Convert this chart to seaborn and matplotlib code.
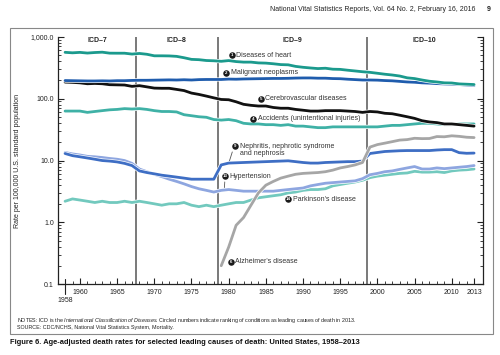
import numpy as np
import seaborn as sns
import matplotlib.pyplot as plt
import matplotlib.patheffects as pe
from matplotlib.patches import Rectangle
from matplotlib.ticker import FixedLocator, FixedFormatter, LogLocator, NullFormatter

# datos (tasas ajustadas por edad, por 100.000)
anos = list(range(1958, 2014))
anos_alz = list(range(1979, 2014))

corazon = [560, 550, 559, 545, 556, 563, 543, 542, 542, 525, 537, 521, 492, 492, 490, 482, 458, 431, 426, 413,
           409, 401, 412, 397, 389, 389, 378, 375, 366, 355, 352, 332, 321, 313, 306, 310, 299, 297, 288, 280,
           272, 266, 257, 248, 241, 232, 217, 211, 200, 191, 186, 180, 179, 173, 171, 169]
cancer = [196, 195, 194, 193, 193, 194, 193, 195, 195, 197, 198, 198, 199, 200, 201, 200, 202, 200, 203, 204,
          204, 204, 207, 206, 208, 209, 210, 211, 212, 212, 213, 215, 216, 216, 214, 214, 211, 210, 206, 203,
          200, 200, 199, 196, 194, 190, 186, 184, 180, 178, 175, 173, 172, 169, 166, 163]
cerebro = [185, 183, 180, 174, 176, 174, 168, 167, 166, 158, 162, 155, 148, 147, 147, 141, 135, 123, 117, 110,
           103, 97, 96, 89, 81, 78, 76, 76, 72, 70, 70, 67, 65, 63, 63, 64, 64, 64, 63, 62,
           60, 62, 61, 58, 57, 54, 51, 48, 44, 42, 41, 39, 39, 38, 37, 36]
accidentes = [63, 63, 63, 60, 62, 64, 66, 67, 69, 68, 69, 67, 64, 62, 62, 61, 55, 53, 51, 50,
              46, 45, 46, 44, 40, 39, 39, 38, 38, 37, 38, 36, 36, 35, 34, 34, 35, 35, 35, 35,
              35, 35, 35, 36, 37, 37, 38, 39, 40, 40, 39, 38, 38, 39, 39, 39]
nefritis = [13, 12, 11.5, 11, 10.5, 10, 9.8, 9.5, 9, 8.3, 6.8, 6.4, 6.1, 5.8, 5.6, 5.4, 5.2, 5.0, 5.0, 5.0,
            5.0, 8.5, 9.1, 9.2, 9.3, 9.4, 9.5, 9.6, 9.7, 9.8, 9.9, 9.6, 9.3, 9.1, 9.1, 9.3, 9.4, 9.5, 9.6, 9.6,
            9.8, 13.0, 13.5, 14.0, 14.2, 14.4, 14.5, 14.5, 14.5, 14.5, 14.8, 15.0, 15.0, 13.4, 13.1, 13.2]
hipertension = [13.5, 12.8, 12.3, 11.7, 11.5, 11.2, 10.8, 10.5, 10.0, 9.0, 7.3, 6.6, 6.0, 5.5, 5.0, 4.6, 4.2, 3.8, 3.5, 3.3,
                3.1, 3.3, 3.4, 3.3, 3.2, 3.2, 3.2, 3.2, 3.2, 3.3, 3.4, 3.5, 3.6, 3.9, 4.1, 4.3, 4.4, 4.5, 4.6, 4.7,
                5.1, 5.9, 6.2, 6.6, 6.8, 7.2, 7.6, 8.0, 7.3, 7.3, 7.6, 7.4, 7.6, 7.8, 8.0, 8.3]
parkinson = [2.2, 2.4, 2.3, 2.2, 2.1, 2.2, 2.1, 2.1, 2.2, 2.1, 2.2, 2.1, 2.0, 1.9, 2.0, 2.0, 2.1, 1.9, 1.8, 1.9,
             1.8, 1.9, 2.0, 2.1, 2.1, 2.3, 2.5, 2.6, 2.7, 2.8, 3.0, 3.1, 3.3, 3.4, 3.4, 3.5, 3.9, 4.1, 4.3, 4.5,
             4.8, 5.3, 5.6, 5.8, 6.0, 6.2, 6.3, 6.7, 6.5, 6.5, 6.6, 6.4, 6.8, 7.0, 7.1, 7.3]
alzheimer = [0.2, 0.4, 0.9, 1.2, 1.9, 3.0, 4.0, 4.6, 5.2, 5.6, 6.0, 6.2, 6.3, 6.4, 6.6, 7.0, 7.6, 8.0, 8.5,
             9.3, 16.5, 18.1, 19.1, 20.2, 21.4, 21.8, 22.9, 22.6, 22.7, 24.4, 24.2, 25.1, 24.6, 23.8, 23.5]

x_etiquetas = [1960, 1965, 1970, 1975, 1980, 1985, 1990, 1995, 2000, 2005, 2010, 2013]
y_ticks = [0.1, 1, 10, 100, 1000]
y_etiquetas = ['0.1', '1.0', '10.0', '100.0', '1,000.0']
limites_icd = [1967.5, 1978.5, 1998.6]
nombres_icd = ['ICD–7', 'ICD–8', 'ICD–9', 'ICD–10']
centros_icd = [1962.3, 1973.0, 1988.6, 2006.3]

sns.set_theme(style='white')
plt.rcParams['font.family'] = ['Liberation Sans', 'DejaVu Sans']
plt.rcParams['mathtext.fontset'] = 'custom'
plt.rcParams['mathtext.it'] = 'Liberation Sans:italic'
plt.rcParams['mathtext.rm'] = 'Liberation Sans'

fig = plt.figure(figsize=(5, 3.55), dpi=100)
ax = fig.add_axes([0.116, 0.199, 0.85, 0.6975])

borde = [pe.Stroke(linewidth=3.0, foreground='white'), pe.Normal()]
series = [
    (anos, parkinson, '#72c9be'),
    (anos, hipertension, '#8ea6e0'),
    (anos, nefritis, '#3e6ec4'),
    (anos_alz, alzheimer, '#a6a6a6'),
    (anos, accidentes, '#3fb1a6'),
    (anos, cerebro, '#111111'),
    (anos, cancer, '#1f5cad'),
    (anos, corazon, '#1b9a8d'),
]
for xs, ys, color in series:
    sns.lineplot(x=xs, y=ys, ax=ax, color=color, linewidth=2.0, path_effects=borde)

ax.set_yscale('log')
ax.set_ylim(0.1, 1000)
ax.set_xlim(1957.05, 2014.2)

for xv in limites_icd:
    ax.axvline(xv, color='#555555', lw=1.1, zorder=1)
for nombre, xc in zip(nombres_icd, centros_icd):
    ax.text(xc, 0.985, nombre, transform=ax.get_xaxis_transform(), ha='center', va='center',
            fontsize=5, fontweight='bold', color='#222222')

# ejes
for lado in ['left', 'right', 'bottom']:
    ax.spines[lado].set_visible(True)
    ax.spines[lado].set_color('#222222')
    ax.spines[lado].set_linewidth(0.9)
ax.spines['top'].set_visible(False)

ax.yaxis.set_major_locator(FixedLocator(y_ticks))
ax.yaxis.set_major_formatter(FixedFormatter(y_etiquetas))
ax.yaxis.set_minor_locator(LogLocator(base=10, subs=np.arange(2, 10)))
ax.yaxis.set_minor_formatter(NullFormatter())
ax.tick_params(axis='y', which='major', direction='in', length=4, width=0.8, left=True, right=True,
               labelsize=5, pad=3, colors='#222222')
ax.tick_params(axis='y', which='minor', direction='in', length=2.2, width=0.6, left=True, right=True,
               colors='#222222')

ax.xaxis.set_major_locator(FixedLocator(x_etiquetas))
ax.xaxis.set_major_formatter(FixedFormatter([str(a) for a in x_etiquetas]))
ax.xaxis.set_minor_locator(FixedLocator(anos))
ax.tick_params(axis='x', which='major', direction='in', length=4, width=0.8, bottom=True,
               labelsize=5, pad=3, colors='#222222')
ax.tick_params(axis='x', which='minor', direction='in', length=2.5, width=0.6, bottom=True, colors='#222222')

trans = ax.get_xaxis_transform()
ax.plot([anos[0], anos[0]], [0.0, -0.04], transform=trans, color='#222222', lw=0.8, clip_on=False)
ax.plot([anos[0], anos[0]], [0.0, 0.02], transform=trans, color='#222222', lw=0.8, clip_on=False)
ax.text(anos[0], -0.065, str(anos[0]), transform=trans, ha='center', va='center', fontsize=5, color='#222222')

ax.set_xlabel('')
ax.set_ylabel('Rate per 100,000 U.S. standard population', fontsize=5, color='#222222', labelpad=7)


def etiqueta(num, x, y, texto):
    ax.scatter([x], [y], s=22, color='#1a1a1a', zorder=5, linewidths=0)
    ax.text(x, y, str(num), ha='center', va='center', fontsize=3.2, color='white',
            fontweight='bold', zorder=6)
    ax.annotate(texto, (x, y), xytext=(3.2, 0), textcoords='offset points', ha='left', va='center',
                fontsize=5, color='#333333', zorder=6)


etiqueta(1, 1980.4, 506, 'Diseases of heart')
etiqueta(2, 1979.7, 263, 'Malignant neoplasms')
etiqueta(5, 1984.3, 100, 'Cerebrovascular diseases')
etiqueta(4, 1983.3, 47.5, 'Accidents (unintentional injuries)')
etiqueta(9, 1980.9, 17.0, 'Nephritis, nephrotic syndrome')
ax.annotate('and nephrosis', (1980.9, 13.0), xytext=(3.2, 0), textcoords='offset points',
            ha='left', va='center', fontsize=5, color='#333333')
etiqueta(13, 1979.5, 5.57, 'Hypertension')
etiqueta(14, 1988.0, 2.35, "Parkinson's disease")
etiqueta(6, 1980.3, 0.23, "Alzheimer's disease")
ax.annotate('', xy=(1980.0, 9.0), xytext=(1980.6, 15.2),
            arrowprops=dict(arrowstyle='-', color='#555555', lw=0.6))
ax.annotate('', xy=(1979.4, 3.3), xytext=(1979.5, 5.0),
            arrowprops=dict(arrowstyle='-', color='#555555', lw=0.6))

# marco, encabezado y notas
fig.patches.append(Rectangle((0.02, 0.059), 0.966, 0.862, transform=fig.transFigure,
                             fill=False, edgecolor='#888888', lw=0.8))
fig.text(0.95, 0.972, 'National Vital Statistics Reports, Vol. 64 No. 2, February 16, 2016',
         ha='right', va='center', fontsize=5, color='#222222')
fig.text(0.982, 0.972, '9', ha='right', va='center', fontsize=5, fontweight='bold', color='#222222')
fig.text(0.034, 0.096, r'NOTES: ICD is the $\mathit{International\ Classification\ of\ Diseases}$. '
         'Circled numbers indicate ranking of conditions as leading causes of death in 2013.',
         ha='left', va='center', fontsize=3.9, color='#222222')
fig.text(0.034, 0.078, 'SOURCE: CDC/NCHS, National Vital Statistics System, Mortality.',
         ha='left', va='center', fontsize=3.9, color='#222222')
fig.text(0.02, 0.035, 'Figure 6. Age-adjusted death rates for selected leading causes of death: '
         'United States, 1958–2013', ha='left', va='center', fontsize=5.4, fontweight='bold', color='#111111')

fig.savefig('out.png', dpi=100)
